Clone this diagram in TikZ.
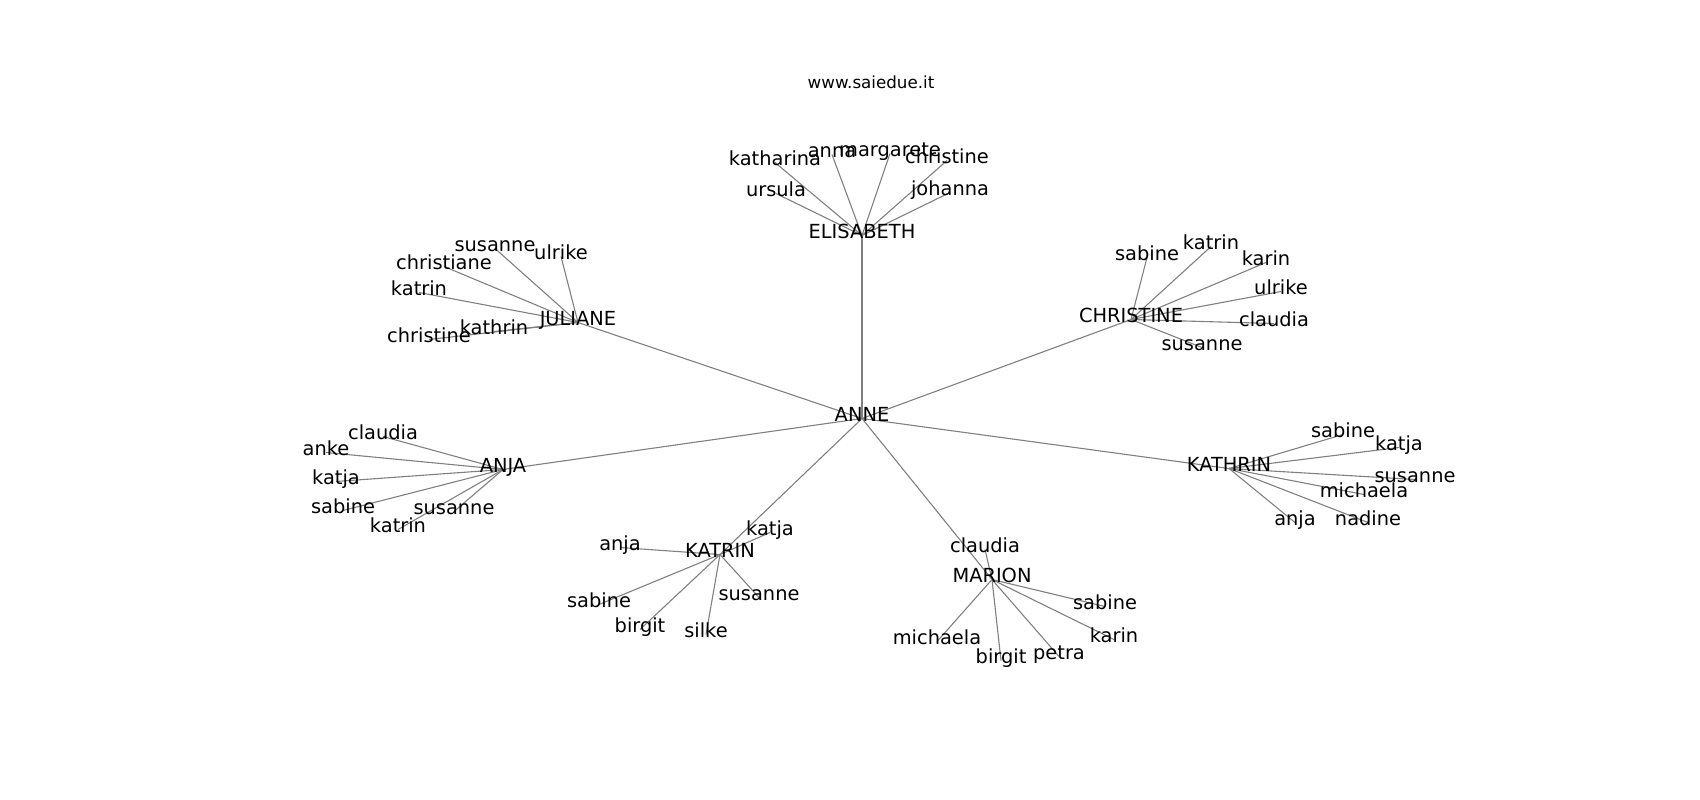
\documentclass[tikz,border=0pt]{standalone}
\usepackage{fontspec}
\setmainfont{DejaVu Sans}
\usetikzlibrary{backgrounds}
\definecolor{edgegray}{RGB}{128,128,128}
\begin{document}
\begin{tikzpicture}[x=1pt,y=-1pt,
  lbl/.style={inner sep=0pt, font=\fontsize{19.4}{23}\selectfont, text height=0.76em, text depth=0.24em, text=black, yshift=-4.5pt},
  ttl/.style={inner sep=0pt, font=\fontsize{16.7}{20}\selectfont, text=black},
  edge/.style={draw=edgegray, line width=1.1pt}]
\useasboundingbox (0,0) rectangle (1700,800);
\node[ttl] (title) at (871,82) {www.saiedue.it};
% root
\node[lbl] (anne) at (862,414) {ANNE};
% ELISABETH
\node[lbl] (el) at (862,231) {ELISABETH};
\node[lbl] (el1) at (775,158) {katharina};
\node[lbl] (el2) at (832,150) {anna};
\node[lbl] (el3) at (890,149) {margarete};
\node[lbl] (el4) at (947,156) {christine};
\node[lbl] (el5) at (776,189) {ursula};
\node[lbl] (el6) at (950,188) {johanna};
% JULIANE
\node[lbl] (ju) at (578,318) {JULIANE};
\node[lbl] (ju1) at (495,244) {susanne};
\node[lbl] (ju2) at (561,252) {ulrike};
\node[lbl] (ju3) at (444,262) {christiane};
\node[lbl] (ju4) at (419,288) {katrin};
\node[lbl] (ju5) at (494,327) {kathrin};
\node[lbl] (ju6) at (429,335) {christine};
% CHRISTINE
\node[lbl] (ch) at (1131,315) {CHRISTINE};
\node[lbl] (ch1) at (1147,253) {sabine};
\node[lbl] (ch2) at (1211,242) {katrin};
\node[lbl] (ch3) at (1266,258) {karin};
\node[lbl] (ch4) at (1281,287) {ulrike};
\node[lbl] (ch5) at (1274,319) {claudia};
\node[lbl] (ch6) at (1202,343) {susanne};
% ANJA
\node[lbl] (an) at (503,465) {ANJA};
\node[lbl] (an1) at (383,432) {claudia};
\node[lbl] (an2) at (326,448) {anke};
\node[lbl] (an3) at (336,477) {katja};
\node[lbl] (an4) at (343,506) {sabine};
\node[lbl] (an5) at (454,507) {susanne};
\node[lbl] (an6) at (398,525) {katrin};
% KATHRIN
\node[lbl] (ka) at (1229,464) {KATHRIN};
\node[lbl] (ka1) at (1343,430) {sabine};
\node[lbl] (ka2) at (1399,443) {katja};
\node[lbl] (ka3) at (1415,475) {susanne};
\node[lbl] (ka4) at (1364,490) {michaela};
\node[lbl] (ka5) at (1295,518) {anja};
\node[lbl] (ka6) at (1368,518) {nadine};
% KATRIN
\node[lbl] (kt) at (720,550) {KATRIN};
\node[lbl] (kt1) at (770,528) {katja};
\node[lbl] (kt2) at (620,543) {anja};
\node[lbl] (kt3) at (599,600) {sabine};
\node[lbl] (kt4) at (759,593) {susanne};
\node[lbl] (kt5) at (640,625) {birgit};
\node[lbl] (kt6) at (706,630) {silke};
% MARION
\node[lbl] (ma) at (992,575) {MARION};
\node[lbl] (ma1) at (985,545) {claudia};
\node[lbl] (ma2) at (1105,602) {sabine};
\node[lbl] (ma3) at (1114,635) {karin};
\node[lbl] (ma4) at (937,637) {michaela};
\node[lbl] (ma5) at (1001,656) {birgit};
\node[lbl] (ma6) at (1059,652) {petra};
\begin{pgfonlayer}{background}
\foreach \h in {el,ju,ch,an,ka,kt,ma}{
  \draw[edge] (anne.center) -- (\h.center);
  \foreach \i in {1,...,6}{
    \draw[edge] (\h.center) -- (\h\i.center);
  }
}
\end{pgfonlayer}
\end{tikzpicture}
\end{document}
